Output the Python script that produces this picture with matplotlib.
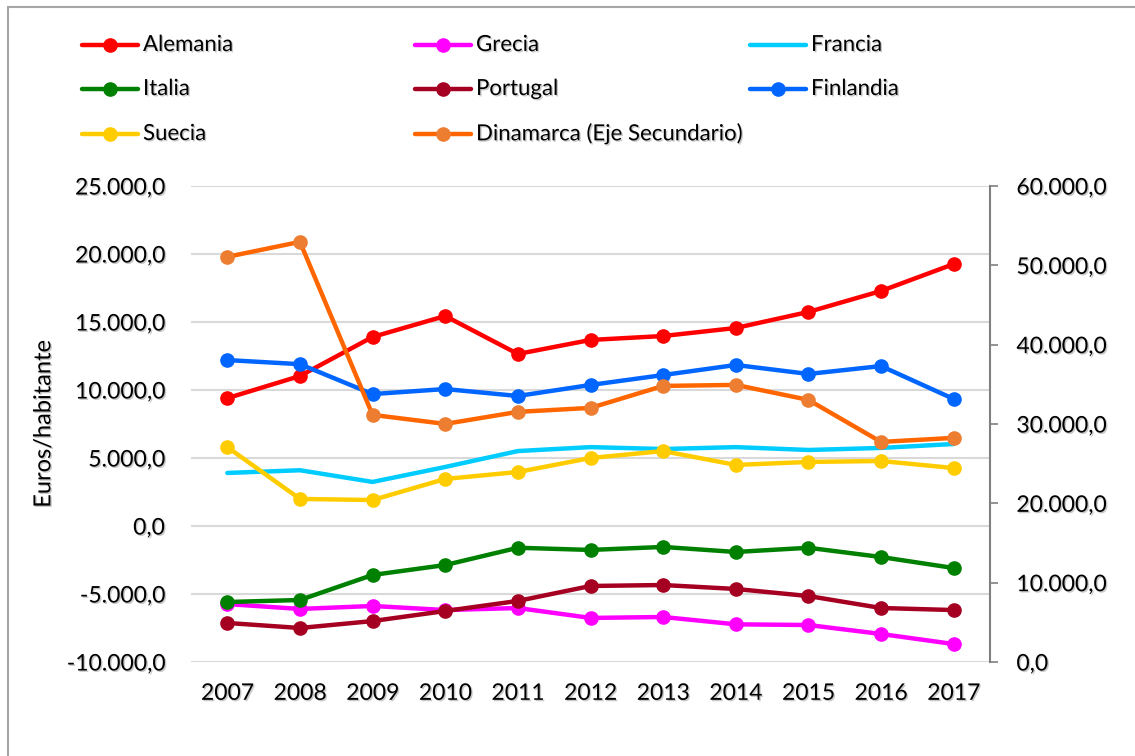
import matplotlib
matplotlib.use('Agg')
from matplotlib import pyplot as plt
from matplotlib.lines import Line2D
from matplotlib.patches import Rectangle
import matplotlib.patheffects as pe
from matplotlib.ticker import FuncFormatter

plt.rcParams['font.family'] = ['Lato', 'DejaVu Sans']

years = ['2007', '2008', '2009', '2010', '2011', '2012', '2013', '2014', '2015', '2016', '2017']

# left axis (euros/habitante)
alemania = [9400, 11030, 13900, 15440, 12650, 13680, 13970, 14560, 15740, 17280, 19260]
grecia = [-5740, -6100, -5880, -6180, -6030, -6760, -6690, -7230, -7280, -7940, -8680]
francia = [3900, 4100, 3240, 4340, 5510, 5800, 5660, 5800, 5590, 5740, 6030]
italia = [-5590, -5440, -3600, -2870, -1600, -1760, -1540, -1910, -1600, -2280, -3090]
portugal = [-7130, -7500, -6990, -6250, -5510, -4410, -4340, -4630, -5150, -6030, -6180]
finlandia = [12200, 11900, 9700, 10070, 9560, 10370, 11100, 11840, 11180, 11760, 9340]
suecia = [5800, 1990, 1910, 3460, 3970, 5000, 5510, 4490, 4710, 4780, 4260]
# right axis
dinamarca = [51070, 52960, 31150, 30010, 31530, 32030, 34800, 34930, 33040, 27740, 28250]

left_ticks = [-10000, -5000, 0, 5000, 10000, 15000, 20000, 25000]
right_ticks = [0, 10000, 20000, 30000, 40000, 50000, 60000]


def fmt(v, pos=None):
    s = '{:,.1f}'.format(v)
    return s.replace(',', '#').replace('.', ',').replace('#', '.')


shadow = [pe.withSimplePatchShadow(offset=(1, -1), shadow_rgbFace='#888888', alpha=0.45)]

fig = plt.figure(figsize=(11.35, 7.56), dpi=100)
fig.patches.append(Rectangle((8/1135, -0.1), 1.2, 1 - 7/756 + 0.1, transform=fig.transFigure,
                             fill=False, edgecolor='#A6A6A6', linewidth=1.5))

ax = fig.add_axes([191/1135, 1 - 662/756, 799/1135, 476/756])
ax2 = ax.twinx()

x = list(range(len(years)))
lw = 3.2
ms = 9.5
series = [
    ('Alemania', alemania, '#FF0000', '#FF0000', 'o'),
    ('Grecia', grecia, '#FF00FF', '#FF00FF', 'o'),
    ('Francia', francia, '#00CCFF', '#00CCFF', None),
    ('Italia', italia, '#008000', '#008000', 'o'),
    ('Portugal', portugal, '#A50021', '#A50021', 'o'),
    ('Finlandia', finlandia, '#0066FF', '#0066FF', 'o'),
    ('Suecia', suecia, '#FFCC00', '#FFCC00', 'o'),
]
for name, vals, c, mc, m in series:
    ax.plot(x, vals, color=c, lw=lw, marker=m, ms=ms, mfc=mc, mec=mc, solid_capstyle='round')
ax2.plot(x, dinamarca, color='#FF6600', lw=lw, marker='o', ms=ms, mfc='#ED7D31', mec='#ED7D31')

ax.set_xlim(-0.5, 10.5)
ax.set_ylim(-10000, 25000)
ax.set_yticks(left_ticks)
ax.yaxis.set_major_formatter(FuncFormatter(fmt))
ax.grid(axis='y', color='#D9D9D9', lw=1.5)
ax.set_axisbelow(True)
ax.set_xticks(x)
ax.set_xticklabels(years)
ax.tick_params(axis='both', length=0, labelsize=16.5, pad=15)
ax.tick_params(axis='y', pad=19)
for s in ax.spines.values():
    s.set_visible(False)

ax2.set_ylim(0, 60000)
ax2.set_yticks(right_ticks)
ax2.yaxis.set_major_formatter(FuncFormatter(fmt))
ax2.tick_params(axis='y', direction='out', length=6, width=1.2, color='#808080', labelsize=16.5, pad=13)
for k in ['top', 'left', 'bottom']:
    ax2.spines[k].set_visible(False)
ax2.spines['right'].set_color('#808080')
ax2.spines['right'].set_linewidth(1.5)

for lab in ax.get_xticklabels() + ax.get_yticklabels() + ax2.get_yticklabels():
    lab.set_path_effects(shadow)

ax.set_ylabel('Euros/habitante', fontsize=17, path_effects=shadow)
ax.yaxis.set_label_coords(-0.171, 0.5)

# legend, three columns laid out row by row
legend_items = [
    ('Alemania', '#FF0000', '#FF0000', 'o'),
    ('Grecia', '#FF00FF', '#FF00FF', 'o'),
    ('Francia', '#00CCFF', '#00CCFF', None),
    ('Italia', '#008000', '#008000', 'o'),
    ('Portugal', '#A50021', '#A50021', 'o'),
    ('Finlandia', '#0066FF', '#0066FF', 'o'),
    ('Suecia', '#FFCC00', '#FFCC00', 'o'),
    ('Dinamarca (Eje Secundario)', '#FF6600', '#ED7D31', 'o'),
]
col_x = [82, 415, 750]
row_y = [45, 89, 134]
for i, (name, c, mc, m) in enumerate(legend_items):
    cx = col_x[i % 3]
    cy = 1 - row_y[i // 3] / 756
    fig.add_artist(Line2D([cx/1135, (cx + 56)/1135], [cy, cy], transform=fig.transFigure,
                          color=c, lw=lw, solid_capstyle='round'))
    if m:
        fig.add_artist(Line2D([(cx + 28)/1135], [cy], transform=fig.transFigure,
                              marker=m, ms=ms, mfc=mc, mec=mc, lw=0))
    fig.text((cx + 61)/1135, cy, name, fontsize=16, va='center', ha='left', path_effects=shadow)

plt.savefig('out.png', dpi=100)
